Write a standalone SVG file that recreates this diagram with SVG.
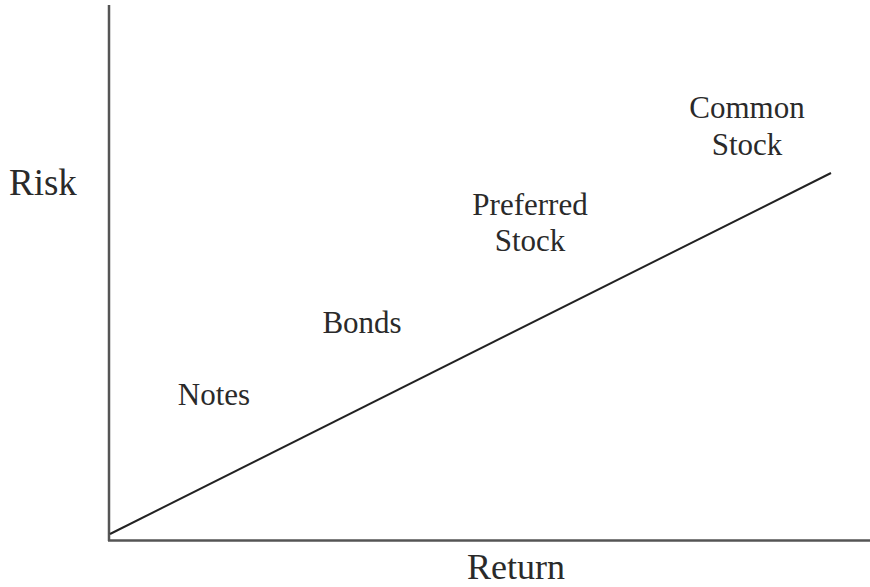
<svg xmlns="http://www.w3.org/2000/svg" width="870" height="587" viewBox="0 0 870 587">
<style>
.ax{stroke:#555;stroke-width:2.5;fill:none}
.ln{stroke:#222;stroke-width:2;fill:none}
.lb{font-family:"Liberation Serif","Times New Roman",serif;font-size:31px;fill:#2a2a2a;text-anchor:middle}
.at{font-family:"Liberation Serif","Times New Roman",serif;font-size:37px;fill:#2a2a2a}
</style>
<rect width="870" height="587" fill="#fff"/>
<g id="connectors">
<line class="ax" x1="109" y1="5" x2="109" y2="541"/>
<line class="ax" x1="108" y1="540.5" x2="870" y2="540.5"/>
<line class="ln" x1="110" y1="534" x2="831" y2="173"/>
</g>
<g id="risk"><text class="at" x="9" y="195">Risk</text></g>
<g id="return"><text class="at" x="516" y="579" text-anchor="middle" style="font-size:36px">Return</text></g>
<g id="notes"><text class="lb" x="214" y="405">Notes</text></g>
<g id="bonds"><text class="lb" x="362" y="333">Bonds</text></g>
<g id="preferred"><text class="lb" x="530" y="215">Preferred</text><text class="lb" x="530" y="251">Stock</text></g>
<g id="common"><text class="lb" x="747" y="118">Common</text><text class="lb" x="747" y="155">Stock</text></g>
</svg>
